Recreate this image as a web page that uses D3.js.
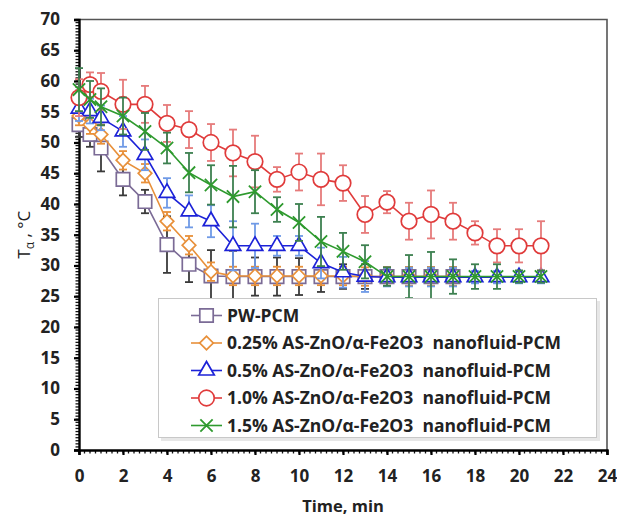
<!DOCTYPE html>
<html><head><meta charset="utf-8">
<script src="https://cdn.jsdelivr.net/npm/d3@7/dist/d3.min.js"></script>
<style>body{margin:0;background:#fff}</style>
</head><body>
<svg id="c" width="617" height="518"></svg>
<script>
// ---------- data ----------
const timeFull  = [0,0.5,1,2,3,4,5,6,7,8,9,10,11,12,13,14,15,16,17,18,19,20,21];
const timeShort = [0,0.5,1,2,3,4,5,6,7,8,9,10,11,12,13,14,15,16,17];
const xTicks = [0,2,4,6,8,10,12,14,16,18,20,22,24];
const yTicks = [0,5,10,15,20,25,30,35,40,45,50,55,60,65,70];

const pwValues  = [52.9,51.3,49.1,44.0,40.4,33.4,30.2,28.3,28.2,28.2,28.2,28.2,28.2,28.2,28.2,28.2,28.2,28.2,28.2];
const pwErr     = [2.0,2.0,3.8,2.6,1.9,4.6,2.9,4.2,4.2,3.1,3.1,3.0,2.5,2.0,2.0,1.5,1.5,1.5,1.5];
const p025Values= [54.3,52.9,51.3,47.1,45.0,37.2,33.3,29.0,28.3,28.3,28.3,28.3,28.3,28.3,28.2,28.2,28.2,28.2,28.2];
const p025Err   = [1.5,1.5,1.5,1.5,1.5,1.5,1.5,1.5,1.5,1.5,1.5,1.5,1.5,1.5,1.5,1.5,1.5,1.5,1.5];
const p05Values = [55.5,55.1,54.0,51.8,48.0,41.8,38.8,37.2,33.2,33.2,33.2,33.2,30.4,28.9,28.2,28.1,28.1,28.1,28.1,28.1,28.1,28.1,28.1];
const p05Err    = [2.0,2.0,2.0,2.5,2.5,2.4,2.6,2.6,4.0,3.6,1.6,1.6,2.5,2.5,2.5,1.5,1.5,1.5,1.5,1.0,1.0,1.0,1.0];
const p10Values = [57.3,59.4,58.3,56.2,56.2,53.1,52.1,50.0,48.3,46.9,44.0,45.2,44.0,43.4,38.3,40.3,37.2,38.3,37.2,35.3,33.2,33.2,33.2];
const p10Err    = [3.0,2.0,3.0,4.0,3.0,3.0,3.0,3.0,3.8,4.2,2.0,3.0,4.2,2.9,3.0,1.8,3.0,3.9,3.0,1.9,2.7,2.7,4.0];
const p15Values = [58.6,57.0,55.8,54.3,51.8,49.1,45.1,43.1,41.2,42.0,39.1,37.0,33.9,32.3,30.6,28.2,28.2,28.2,28.2,28.2,28.2,28.2,28.2];
const p15Err    = [3.5,3.0,3.0,3.0,3.0,2.5,3.2,3.2,5.0,3.5,2.0,3.0,4.0,3.0,2.7,1.5,3.5,4.0,2.8,2.0,2.0,1.0,1.0];

const seriesNames = ["PW-PCM",
  "0.25% AS-ZnO/α-Fe2O3  nanofluid-PCM",
  "0.5% AS-ZnO/α-Fe2O3  nanofluid-PCM",
  "1.0% AS-ZnO/α-Fe2O3  nanofluid-PCM",
  "1.5% AS-ZnO/α-Fe2O3  nanofluid-PCM"];

// ---------- styles ----------
const series = [
  {name:seriesNames[0], t:timeShort, v:pwValues,   e:pwErr,   color:"#7b6b96", err:"#3a3a3a", shape:"square"},
  {name:seriesNames[1], t:timeShort, v:p025Values, e:p025Err, color:"#e8903a", err:"#e8903a", shape:"diamond"},
  {name:seriesNames[2], t:timeFull,  v:p05Values,  e:p05Err,  color:"#1c22d8", err:"#6f9ae6", shape:"triangle"},
  {name:seriesNames[3], t:timeFull,  v:p10Values,  e:p10Err,  color:"#e03b3b", err:"#e67b7b", shape:"circle"},
  {name:seriesNames[4], t:timeFull,  v:p15Values,  e:p15Err,  color:"#2e9a2e", err:"#3d8050", shape:"x"}
];

const svg = d3.select("#c");
const L = 79, R = 607, T = 19.5, B = 450;
const x = d3.scaleLinear().domain([0,24]).range([L,R]);
const y = d3.scaleLinear().domain([0,70]).range([B,T]);

const font = "'Open Sans', 'Liberation Sans', sans-serif";

// frame (top/right)
svg.append("path").attr("d",`M${L},${T}H${R}V${B}`).attr("fill","none").attr("stroke","#555").attr("stroke-width",1.6);

// minor ticks
const gMinor = svg.append("g").attr("stroke","#111").attr("stroke-width",1.3);
d3.range(0,24.001,0.25).forEach(v=>{
  gMinor.append("line").attr("x1",x(v)).attr("x2",x(v)).attr("y1",B).attr("y2",B+3.5);
});
d3.range(0,70.001,0.5).forEach(v=>{
  gMinor.append("line").attr("y1",y(v)).attr("y2",y(v)).attr("x1",L-3.5).attr("x2",L);
});

// axes
const xAxis = d3.axisBottom(x).tickValues(xTicks).tickSize(5).tickPadding(15).tickFormat(d3.format("d"));
const yAxis = d3.axisLeft(y).tickValues(yTicks).tickSize(5).tickPadding(14).tickFormat(d3.format("d"));
const gx = svg.append("g").attr("transform",`translate(0,${B})`).call(xAxis);
const gy = svg.append("g").attr("transform",`translate(${L},0)`).call(yAxis);
[gx,gy].forEach(g=>{
  g.select(".domain").attr("stroke","#000").attr("stroke-width",2.4);
  g.selectAll(".tick line").attr("stroke","#000").attr("stroke-width",2.2);
  g.selectAll(".tick text").attr("font-family",font).attr("font-weight",700).attr("font-size",17).attr("fill","#222");
});

// axis titles
svg.append("text").attr("x",(L+R)/2).attr("y",512).attr("text-anchor","middle")
  .attr("font-family",font).attr("font-weight",700).attr("font-size",16.5).attr("fill","#222").text("Time, min");
const yt = svg.append("text").attr("transform",`translate(30,${(T+B)/2}) rotate(-90)`).attr("text-anchor","middle")
  .attr("font-family",font).attr("font-size",17).attr("fill","#222");
yt.append("tspan").text("T");
yt.append("tspan").attr("font-size",12).attr("dy",4).text("α");
yt.append("tspan").attr("dy",-4).text(" , °C");

// symbols
function sym(shape, size){
  if(shape==="square") return d3.symbol(d3.symbolSquare, size||180)();
  if(shape==="diamond") return d3.symbol(d3.symbolSquare, size||92)();
  if(shape==="triangle") return d3.symbol(d3.symbolTriangle, size||105)();
  if(shape==="circle") return d3.symbol(d3.symbolCircle, size||190)();
  if(shape==="x") return d3.symbol(d3.symbolTimes, size||100)();
}
function drawMarker(g, s, cx, cy){
  g.append("path").attr("d",sym(s.shape))
    .attr("transform",`translate(${cx},${cy})${s.shape==="diamond"?" rotate(45)":""}`)
    .attr("fill", s.shape==="x" ? "none" : "#fff")
    .attr("stroke", s.color).attr("stroke-width", s.shape==="x"?1.8:1.7);
}

const line = d3.line();
series.forEach(s=>{
  const g = svg.append("g");
  const ge = g.append("g").attr("stroke",s.err).attr("stroke-width",1.8);
  s.t.forEach((t,i)=>{
    const cx = x(t), y1 = y(s.v[i]+s.e[i]), y2 = y(s.v[i]-s.e[i]);
    ge.append("line").attr("x1",cx).attr("x2",cx).attr("y1",y1).attr("y2",y2);
    ge.append("line").attr("x1",cx-4).attr("x2",cx+4).attr("y1",y1).attr("y2",y1);
    ge.append("line").attr("x1",cx-4).attr("x2",cx+4).attr("y1",y2).attr("y2",y2);
  });
  g.append("path").attr("d", line(s.t.map((t,i)=>[x(t),y(s.v[i])])))
    .attr("fill","none").attr("stroke",s.color).attr("stroke-width",1.6);
  s.t.forEach((t,i)=>drawMarker(g, s, x(t), y(s.v[i])));
});

// legend
const lg = svg.append("g");
lg.append("rect").attr("x",161).attr("y",301).attr("width",439).attr("height",140).attr("fill","#ddd").attr("opacity",0.7);
lg.append("rect").attr("x",158.5).attr("y",298.5).attr("width",438).attr("height",139)
  .attr("fill","#fff").attr("stroke","#c8c8c8").attr("stroke-width",1);
series.forEach((s,i)=>{
  const cy = 315.5 + i*27.5;
  lg.append("line").attr("x1",191).attr("x2",222).attr("y1",cy).attr("y2",cy).attr("stroke",s.color).attr("stroke-width",1.6);
  drawMarker(lg, s, 206.5, cy);
  lg.append("text").attr("x",227).attr("y",cy+6).attr("font-family",font).attr("font-weight",700)
    .attr("font-size",17.5).attr("fill","#222").style("white-space","pre").text(s.name);
});
</script>
</body></html>
